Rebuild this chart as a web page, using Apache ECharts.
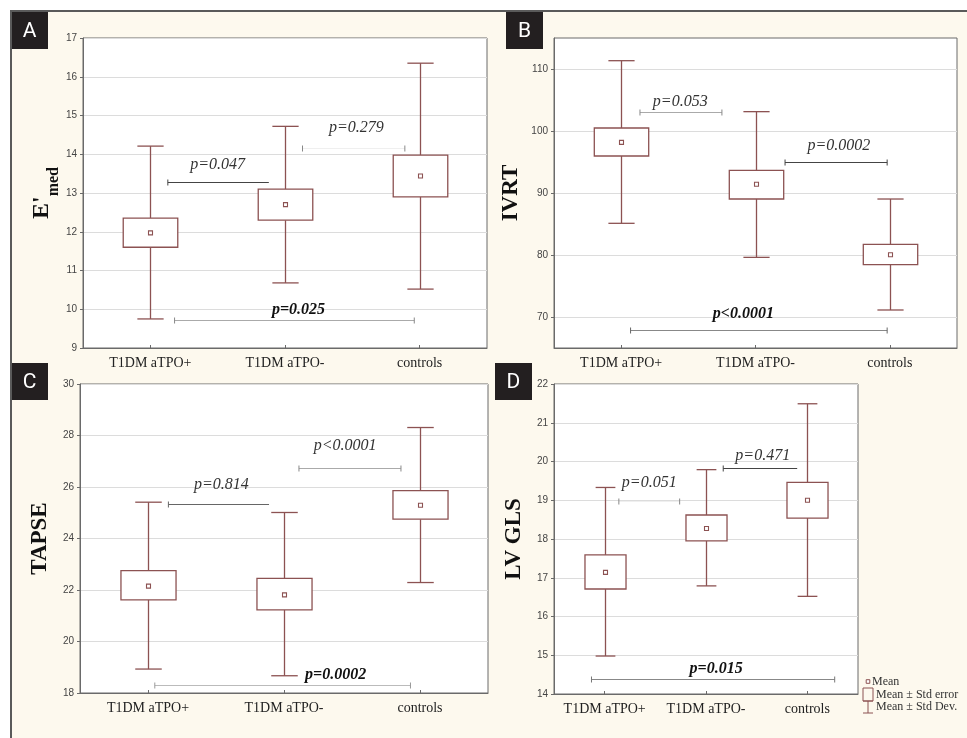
<!DOCTYPE html>
<html><head><meta charset="utf-8">
<script src="https://cdn.jsdelivr.net/npm/echarts@6/dist/echarts.min.js"></script>
<style>html,body{margin:0;padding:0;background:#fff}#c{width:967px;height:738px}</style>
</head><body><div id="c"></div><script>
const categories = ['T1DM aTPO+', 'T1DM aTPO-', 'controls'];

// Panel A - E'med
const aMean   = [11.97, 12.70, 13.44];
const aSeLow  = [11.60, 12.30, 12.90];
const aSeHigh = [12.35, 13.10, 13.98];
const aSdLow  = [9.75, 10.68, 10.52];
const aSdHigh = [14.21, 14.72, 16.35];
const aTicks  = [9, 10, 11, 12, 13, 14, 15, 16, 17];
const aPLabels = ['p=0.047', 'p=0.279', 'p=0.025'];
const aPFrom   = [0.13, 1.13, 0.18];
const aPTo     = [0.88, 1.89, 1.96];
const aPLevel  = [13.29, 14.16, 9.73];
const aPTextX  = [0.50, 1.53, 1.10];
const aPTextY  = [13.74, 14.68, 9.99];

// Panel B - IVRT
const bMean   = [98.17, 91.40, 80.05];
const bSeLow  = [95.97, 89.03, 78.44];
const bSeHigh = [100.48, 93.66, 81.72];
const bSdLow  = [85.11, 79.62, 71.13];
const bSdHigh = [111.34, 103.12, 89.03];
const bTicks  = [70, 80, 90, 100, 110];
const bRange  = [65, 115];
const bPLabels = ['p=0.053', 'p=0.0002', 'p<0.0001'];
const bPFrom   = [0.14, 1.22, 0.07];
const bPTo     = [0.75, 1.98, 1.98];
const bPLevel  = [103.06, 95.0, 67.9];
const bPTextX  = [0.44, 1.62, 0.91];
const bPTextY  = [104.73, 97.63, 70.48];

// Panel C - TAPSE
const cMean   = [22.15, 21.81, 25.29];
const cSeLow  = [21.62, 21.23, 24.75];
const cSeHigh = [22.75, 22.45, 25.86];
const cSdLow  = [18.93, 18.67, 22.29];
const cSdHigh = [25.41, 25.01, 28.31];
const cTicks  = [18, 20, 22, 24, 26, 28, 30];
const cPLabels = ['p=0.814', 'p<0.0001', 'p=0.0002'];
const cPFrom   = [0.15, 1.11, 0.05];
const cPTo     = [0.89, 1.86, 1.93];
const cPLevel  = [25.33, 26.74, 18.31];
const cPTextX  = [0.54, 1.45, 1.38];
const cPTextY  = [26.08, 27.59, 18.72];

// Panel D - LV GLS
const dMean   = [17.14, 18.27, 19.00];
const dSeLow  = [16.71, 17.95, 18.54];
const dSeHigh = [17.59, 18.62, 19.46];
const dSdLow  = [14.98, 16.79, 16.52];
const dSdHigh = [19.33, 19.79, 21.49];
const dTicks  = [14, 15, 16, 17, 18, 19, 20, 21, 22];
const dPLabels = ['p=0.051', 'p=0.471', 'p=0.015'];
const dPFrom   = [0.14, 1.17, -0.13];
const dPTo     = [0.74, 1.90, 2.27];
const dPLevel  = [18.98, 19.83, 14.38];
const dPTextX  = [0.44, 1.56, 1.10];
const dPTextY  = [19.45, 20.16, 14.65];

const panelLetters = ['A', 'B', 'C', 'D'];
const legendLabels = ['Mean', 'Mean \u00b1 Std error', 'Mean \u00b1 Std Dev.'];

// ---------- styles / layout ----------
const BOX = '#8c5252';
const SERIF = '"Liberation Serif", "Times New Roman", serif';
const SANS = '"Liberation Sans", Arial, sans-serif';

const panels = [
  { letter: panelLetters[0], name: "{a|E'}{b|med}", nameGap: 22,
    grid: {left: 83, top: 38, width: 404, height: 310}, badge: [11, 12],
    mean: aMean, seLow: aSeLow, seHigh: aSeHigh, sdLow: aSdLow, sdHigh: aSdHigh,
    ticks: aTicks, range: [aTicks[0], aTicks[aTicks.length - 1]],
    p: [aPLabels, aPFrom, aPTo, aPLevel, aPTextX, aPTextY],
    pStyle: [{c: '#444', t: '#444', ends: 'L', bold: false},
             {c: '#efefef', t: '#888', ends: 'LR', bold: false},
             {c: '#aaa', t: '#888', ends: 'LR', bold: true}] },
  { letter: panelLetters[1], name: 'IVRT', nameGap: 31,
    grid: {left: 554, top: 38, width: 403, height: 310}, badge: [506, 12],
    mean: bMean, seLow: bSeLow, seHigh: bSeHigh, sdLow: bSdLow, sdHigh: bSdHigh,
    ticks: bTicks, range: bRange,
    p: [bPLabels, bPFrom, bPTo, bPLevel, bPTextX, bPTextY],
    pStyle: [{c: '#aaa', t: '#888', ends: 'LR', bold: false},
             {c: '#444', t: '#444', ends: 'LR', bold: false},
             {c: '#888', t: '#666', ends: 'LR', bold: true}] },
  { letter: panelLetters[2], name: 'TAPSE', nameGap: 28,
    grid: {left: 80, top: 384, width: 408, height: 309}, badge: [11, 363],
    mean: cMean, seLow: cSeLow, seHigh: cSeHigh, sdLow: cSdLow, sdHigh: cSdHigh,
    ticks: cTicks, range: [cTicks[0], cTicks[cTicks.length - 1]],
    p: [cPLabels, cPFrom, cPTo, cPLevel, cPTextX, cPTextY],
    pStyle: [{c: '#666', t: '#666', ends: 'L', bold: false},
             {c: '#aaa', t: '#888', ends: 'LR', bold: false},
             {c: '#bbb', t: '#999', ends: 'LR', bold: true}] },
  { letter: panelLetters[3], name: 'LV GLS', nameGap: 28,
    grid: {left: 554, top: 384, width: 304, height: 310}, badge: [495, 363],
    mean: dMean, seLow: dSeLow, seHigh: dSeHigh, sdLow: dSdLow, sdHigh: dSdHigh,
    ticks: dTicks, range: [dTicks[0], dTicks[dTicks.length - 1]],
    p: [dPLabels, dPFrom, dPTo, dPLevel, dPTextX, dPTextY],
    pStyle: [{c: '#efefef', t: '#888', ends: 'LR', bold: false},
             {c: '#444', t: '#444', ends: 'L', bold: false},
             {c: '#888', t: '#777', ends: 'LR', bold: true}] }
];

const grids = [], xAxes = [], yAxes = [], series = [], graphics = [];

// background frame
graphics.push({type: 'rect', z: -100, shape: {x: 10, y: 10, width: 957, height: 728}, style: {fill: '#fdf9ee'}});
graphics.push({type: 'line', z: 100, shape: {x1: 10, y1: 11, x2: 967, y2: 11}, style: {stroke: '#5a5a5a', lineWidth: 2}});
graphics.push({type: 'line', z: 100, shape: {x1: 11, y1: 10, x2: 11, y2: 738}, style: {stroke: '#5a5a5a', lineWidth: 2}});

panels.forEach((P, i) => {
  grids.push(Object.assign({show: true, backgroundColor: '#ffffff', borderColor: '#6a6a6a', borderWidth: 1, containLabel: false}, P.grid));
  xAxes.push({
    type: 'category', gridIndex: i, data: categories, position: 'bottom',
    axisLine: {show: true, onZero: false, lineStyle: {color: '#6a6a6a'}},
    axisTick: {show: true, inside: true, length: 3, alignWithLabel: true, lineStyle: {color: '#6a6a6a'}},
    axisLabel: {color: '#222', fontFamily: SERIF, fontSize: 14, margin: 8, interval: 0},
    splitLine: {show: false}
  });
  xAxes.push({type: 'value', gridIndex: i, min: -0.5, max: 2.5, show: false,
    axisLine: {show: false, onZero: false}});
  const isCustom = (P.range[0] !== P.ticks[0]);
  const y = {
    type: 'value', gridIndex: i, min: P.range[0], max: P.range[1], position: 'left',
    name: P.name, nameLocation: 'middle', nameGap: P.nameGap, nameRotate: 90,
    nameTextStyle: {fontFamily: SERIF, fontWeight: 'bold', fontSize: 23, color: '#111',
      rich: {a: {fontFamily: SERIF, fontWeight: 'bold', fontSize: 24, color: '#111', lineHeight: 28, verticalAlign: 'top'},
             b: {fontFamily: SERIF, fontWeight: 'bold', fontSize: 16, color: '#111', lineHeight: 16, padding: [16, 0, 0, 0], verticalAlign: 'top'}}},
    axisLine: {show: true, onZero: false, lineStyle: {color: '#6a6a6a'}},
    axisTick: {show: true, length: 3, lineStyle: {color: '#6a6a6a'}},
    axisLabel: {color: '#444', fontFamily: SANS, fontSize: 10, margin: 6},
    splitLine: {show: true, lineStyle: {color: '#dcdcdc', width: 1}}
  };
  if (isCustom) {
    y.axisLabel.customValues = P.ticks;
    y.axisTick.customValues = P.ticks;
  } else {
    y.interval = P.ticks[1] - P.ticks[0];
  }
  yAxes.push(y);

  // boxes
  series.push({
    type: 'custom', xAxisIndex: 2 * i, yAxisIndex: i, z: 5,
    data: categories.map((c, k) => [k, P.mean[k], P.seLow[k], P.seHigh[k], P.sdLow[k], P.sdHigh[k]]),
    encode: {x: 0, y: [1, 2, 3, 4, 5]},
    renderItem: function (params, api) {
      const k = api.value(0);
      const cx = api.coord([k, api.value(1)])[0];
      const band = api.size([1, 0])[0];
      const bw = band * 0.405, cw = band * 0.195;
      const yM = api.coord([k, api.value(1)])[1];
      const yL = api.coord([k, api.value(2)])[1];
      const yH = api.coord([k, api.value(3)])[1];
      const ySL = api.coord([k, api.value(4)])[1];
      const ySH = api.coord([k, api.value(5)])[1];
      const st = {stroke: BOX, lineWidth: 1.3, fill: null};
      const X = Math.round(cx) + 0.5;
      return {type: 'group', children: [
        {type: 'line', shape: {x1: X, y1: ySH, x2: X, y2: yH}, style: st},
        {type: 'line', shape: {x1: X, y1: yL, x2: X, y2: ySL}, style: st},
        {type: 'line', shape: {x1: X - cw / 2, y1: ySH, x2: X + cw / 2, y2: ySH}, style: st},
        {type: 'line', shape: {x1: X - cw / 2, y1: ySL, x2: X + cw / 2, y2: ySL}, style: st},
        {type: 'rect', shape: {x: X - bw / 2, y: yH, width: bw, height: yL - yH}, style: {stroke: BOX, lineWidth: 1.3, fill: '#fff'}},
        {type: 'rect', shape: {x: X - 2, y: yM - 2, width: 4, height: 4}, style: {stroke: BOX, lineWidth: 1.1, fill: '#fff'}}
      ]};
    }
  });

  // p-value annotations
  const [lbl, from, to, lvl, tx, ty] = P.p;
  series.push({
    type: 'custom', xAxisIndex: 2 * i + 1, yAxisIndex: i, z: 6, clip: false,
    data: lbl.map((l, k) => [from[k], to[k], lvl[k], tx[k], ty[k], k]),
    encode: {x: [0, 1, 3], y: [2, 4]},
    renderItem: function (params, api) {
      const k = api.value(5);
      const s = P.pStyle[k];
      const p1 = api.coord([api.value(0), api.value(2)]);
      const p2 = api.coord([api.value(1), api.value(2)]);
      const pt = api.coord([api.value(3), api.value(4)]);
      const yy = Math.round(p1[1]) + 0.5;
      const ch = [{type: 'line', shape: {x1: p1[0], y1: yy, x2: p2[0], y2: yy}, style: {stroke: s.c, lineWidth: 1}}];
      ch.push({type: 'line', shape: {x1: p1[0], y1: yy - 3, x2: p1[0], y2: yy + 3}, style: {stroke: s.t, lineWidth: 1}});
      if (s.ends === 'LR') ch.push({type: 'line', shape: {x1: p2[0], y1: yy - 3, x2: p2[0], y2: yy + 3}, style: {stroke: s.t, lineWidth: 1}});
      ch.push({type: 'text', x: pt[0], y: pt[1], style: {
        text: lbl[k], align: 'center', verticalAlign: 'middle',
        font: (s.bold ? 'italic bold ' : 'italic ') + '16px ' + SERIF,
        fill: s.bold ? '#111' : '#333'}});
      return {type: 'group', children: ch};
    }
  });

  // panel letter badge
  graphics.push({type: 'rect', z: 50, shape: {x: P.badge[0], y: P.badge[1], width: 37, height: 37}, style: {fill: '#231f20'}});
  graphics.push({type: 'text', z: 51, x: P.badge[0] + 18.5, y: P.badge[1] + 19.5, style: {
    text: P.letter, fill: '#fff', align: 'center', verticalAlign: 'middle',
    font: '21px Roboto, "Liberation Sans", sans-serif'}});
});

// legend (panel D)
const LX = 868, LY = [681.5, 694.5, 707];
graphics.push({type: 'rect', z: 50, shape: {x: LX - 1.8, y: LY[0] - 1.8, width: 3.6, height: 3.6}, style: {stroke: BOX, lineWidth: 1, fill: '#fff'}});
graphics.push({type: 'rect', z: 50, shape: {x: LX - 5, y: LY[1] - 6.5, width: 10, height: 13}, style: {stroke: BOX, lineWidth: 1, fill: 'none'}});
graphics.push({type: 'line', z: 50, shape: {x1: LX, y1: LY[2] - 6, x2: LX, y2: LY[2] + 6}, style: {stroke: BOX, lineWidth: 1}});
graphics.push({type: 'line', z: 50, shape: {x1: LX - 5, y1: LY[2] - 6, x2: LX + 5, y2: LY[2] - 6}, style: {stroke: BOX, lineWidth: 1}});
graphics.push({type: 'line', z: 50, shape: {x1: LX - 5, y1: LY[2] + 6, x2: LX + 5, y2: LY[2] + 6}, style: {stroke: BOX, lineWidth: 1}});
legendLabels.forEach((t, k) => {
  graphics.push({type: 'text', z: 50, x: k === 0 ? 872 : 876, y: LY[k], style: {
    text: t, fill: '#333', align: 'left', verticalAlign: 'middle', font: '12px ' + SERIF}});
});

const chart = echarts.init(document.getElementById('c'), null, {renderer: 'canvas'});
chart.setOption({
  animation: false,
  backgroundColor: '#ffffff',
  grid: grids, xAxis: xAxes, yAxis: yAxes, series: series,
  graphic: {elements: graphics}
});
</script></body></html>
